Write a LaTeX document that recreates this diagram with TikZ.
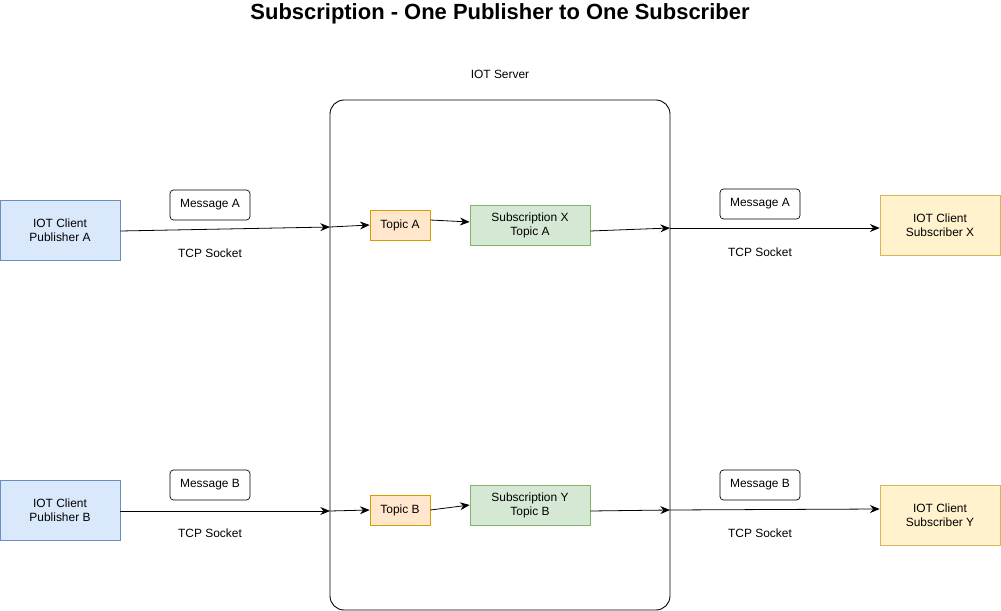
\documentclass[tikz,border=0pt]{standalone}
\usepackage{fontspec}
\setmainfont{Liberation Sans}
\usetikzlibrary{arrows.meta}
\definecolor{pubfill}{HTML}{DAE8FC}
\definecolor{pubdraw}{HTML}{6C8EBF}
\definecolor{topicfill}{HTML}{FFE6CC}
\definecolor{topicdraw}{HTML}{D79B00}
\definecolor{subfill}{HTML}{D5E8D4}
\definecolor{subdraw}{HTML}{82B366}
\definecolor{clientfill}{HTML}{FFF2CC}
\definecolor{clientdraw}{HTML}{D6B656}

\begin{document}
\begin{tikzpicture}[x=0.02cm, y=-0.02cm,
    every node/.style={font=\fontsize{6.8}{8}\selectfont, align=center, inner sep=0pt},
    box/.style={draw, line width=0.4pt, minimum width=2.4cm, minimum height=1.2cm},
    pub/.style={box, fill=pubfill, draw=pubdraw},
    client/.style={box, fill=clientfill, draw=clientdraw},
    topic/.style={draw=topicdraw, fill=topicfill, line width=0.4pt, minimum width=1.2cm, minimum height=0.6cm},
    subbox/.style={draw=subdraw, fill=subfill, line width=0.4pt, minimum width=2.4cm, minimum height=0.8cm},
    msg/.style={draw, rounded corners=2pt, line width=0.4pt, minimum width=1.6cm, minimum height=0.6cm},
    link/.style={-{Stealth[length=5.5pt, width=4.5pt]}, line width=0.45pt}]
            \useasboundingbox (0,0) rectangle (1001,611);

            % Title
            \node[font=\fontsize{12.5}{14}\selectfont\bfseries] (title) at (500,14) {Subscription - One Publisher to One Subscriber};

            % Server
            \draw[rounded corners=8pt, line width=0.5pt] (330,100) rectangle (670,610);
            \node (server) at (500,74) {IOT Server};

            % Clients
            \node[pub] (pubA) at (60,230) {IOT Client\\Publisher A};
            \node[pub] (pubB) at (60,510) {IOT Client\\Publisher B};
            \node[client] (cliX) at (940,225) {IOT Client\\Subscriber X};
            \node[client] (cliY) at (940,515) {IOT Client\\Subscriber Y};

            % Topics and subscriptions
            \node[topic] (topA) at (400,225) {Topic A};
            \node[topic] (topB) at (400,510) {Topic B};
            \node[subbox] (subX) at (530,225) {Subscription X\\Topic A};
            \node[subbox] (subY) at (530,505) {Subscription Y\\Topic B};

            % Messages
            \node[msg] (msgA1) at (210,205) {Message A};
            \node[msg] (msgB1) at (210,485) {Message B};
            \node[msg] (msgA2) at (760,204) {Message A};
            \node[msg] (msgB2) at (760,485) {Message B};
            \node (tcpA1) at (210,253) {TCP Socket};
            \node (tcpB1) at (210,533) {TCP Socket};
            \node (tcpA2) at (760,252) {TCP Socket};
            \node (tcpB2) at (760,533) {TCP Socket};

            % Ports on the server border
            \coordinate (inA) at (330,227);
            \coordinate (inB) at (330,511);
            \coordinate (outX) at (670,228);
            \coordinate (outY) at (670,510);

            % Links
            \draw[link] (pubA.east |- 0,231) -- (inA);
            \draw[link] (inA) -- (topA.west);
            \draw[link] (topA.east |- 0,220) -- (subX.west |- 0,222);
            \draw[link] (subX.east |- 0,231) -- (outX);
            \draw[link] (outX) -- (cliX.west |- outX);

            \draw[link] (pubB.east |- inB) -- (inB);
            \draw[link] (inB) -- (topB.west);
            \draw[link] (topB.east) -- (subY.west);
            \draw[link] (subY.east |- 0,511) -- (outY);
            \draw[link] (outY) -- (cliY.west |- 0,509);
        \end{tikzpicture}
\end{document}
